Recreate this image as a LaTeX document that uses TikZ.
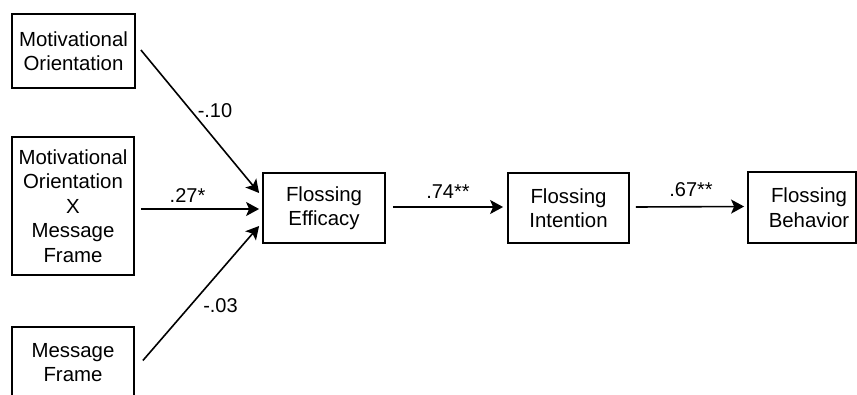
\documentclass[tikz,border=0pt]{standalone}
\usepackage{fontspec}
\setmainfont{Liberation Sans}
\usetikzlibrary{arrows.meta}
\begin{document}
\begin{tikzpicture}[x=1pt,y=-1pt,
  box/.style={draw,line width=1.8pt,minimum width=#1,inner sep=0pt,align=center,
    font=\fontsize{20.4}{24.5}\selectfont},
  path/.style={line width=1.6pt,-{Stealth[length=13pt,width=14pt,inset=3pt]}},
  coef/.style={anchor=base,inner sep=0pt,font=\fontsize{20}{24}\selectfont}]
\useasboundingbox (0,0) rectangle (857,394);
\node[box=123pt,minimum height=74pt] (mo) at (73.5,51) {Motivational\\Orientation};
\node[box=122pt,minimum height=138pt] (mx) at (73,206) {Motivational\\Orientation\\X\\Message\\Frame};
\node[box=122pt,minimum height=71pt] (mf) at (73,362.5) {Message\\Frame};
\node[box=122pt,minimum height=70pt] (fe) at (324,208) {Flossing\\Efficacy};
\node[box=121pt,minimum height=70pt] (fi) at (568.5,208) {Flossing\\Intention};
\node[box=108pt,minimum height=71pt] (fb) at (802,207.5) {\hspace*{14pt}Flossing\\\hspace*{14pt}Behavior};
\draw[path] ([shift={(5,-1)}]mo.east) -- ([shift={(-3,-15)}]fe.west);
\draw[path] ([shift={(6,3)}]mx.east) -- ([shift={(-3,1)}]fe.west);
\draw[path] ([shift={(8,-2)}]mf.east) -- ([shift={(-3,18)}]fe.west);
\draw[path] ([shift={(7,-1)}]fe.east) -- ([shift={(-4,-1)}]fi.west);
\draw[path] ([shift={(6,-1)}]fi.east) -- ([shift={(-3,-1)}]fb.west);
\node[coef] (c1) at (215,117) {-.10};
\node[coef] (c2) at (187.5,202) {.27*};
\node[coef] (c3) at (220.5,312) {-.03};
\node[coef] (c4) at (448,198) {.74**};
\node[coef] (c5) at (691,196) {.67**};
\end{tikzpicture}
\end{document}
